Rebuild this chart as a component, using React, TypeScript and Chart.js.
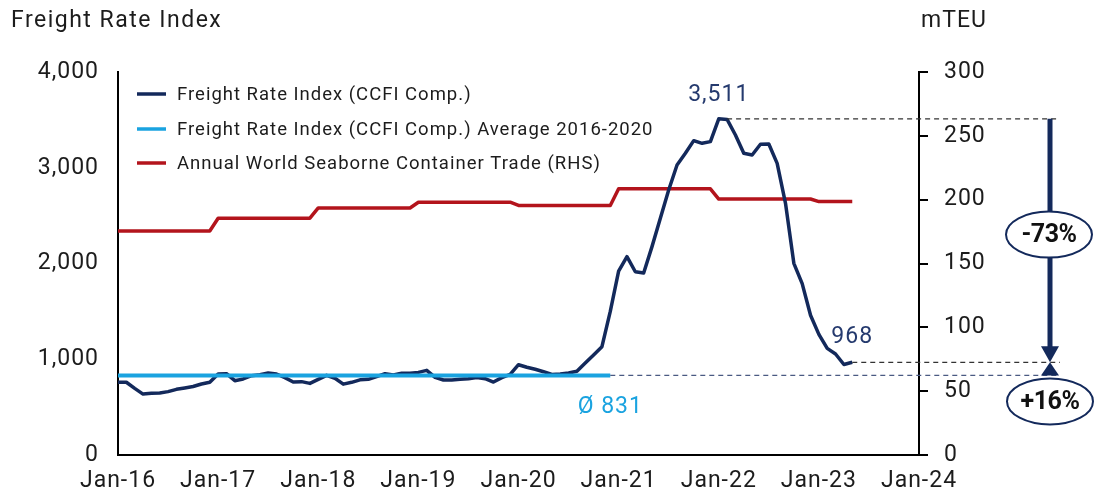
import React, { useEffect, useRef } from "react";
import { Chart, registerables } from "chart.js";

Chart.register(...registerables);

// ---------- data ----------
const xTickLabels = ["Jan-16", "Jan-17", "Jan-18", "Jan-19", "Jan-20", "Jan-21", "Jan-22", "Jan-23", "Jan-24"];

// CCFI composite, monthly Jan-16 .. May-23
const freightIndex = [
  // 2016
  760, 760, 696, 636, 645, 648, 662, 686, 700, 715, 741, 760,
  // 2017
  846, 849, 776, 794, 828, 839, 856, 846, 808, 762, 766, 748,
  // 2018
  790, 832, 801, 740, 759, 785, 790, 818, 849, 835, 853, 853,
  // 2019
  863, 884, 811, 783, 783, 790, 797, 808, 797, 762, 808, 842,
  // 2020
  943, 916, 895, 870, 842, 846, 856, 874, 960, 1045, 1131, 1500,
  // 2021
  1920, 2071, 1914, 1900, 2176, 2472, 2768, 3029, 3151, 3283, 3255, 3273,
  // 2022
  3511, 3505, 3342, 3151, 3133, 3245, 3248, 3046, 2629, 2002, 1790, 1460,
  // 2023
  1260, 1114, 1055, 945, 968,
];

// Annual world seaborne container trade (mTEU), 2016..2023
const tradeYears = [2016, 2017, 2018, 2019, 2020, 2021, 2022, 2023];
const tradeMTEU = [175.5, 185.5, 193.5, 198, 195.5, 208.5, 200.5, 198.5];

// Average of CCFI 2016-2020
const averageValue = 831;
const averageMonths = 60; // Jan-16 .. Dec-20

const seriesNames = [
  "Freight Rate Index (CCFI Comp.)",
  "Freight Rate Index (CCFI Comp.) Average 2016-2020",
  "Annual World Seaborne Container Trade (RHS)",
];

const peakText = "3,511";
const lastText = "968";
const avgText = "Ø 831";
const dropText = "-73%";
const riseText = "+16%";
const leftTitle = "Freight Rate Index";
const rightTitle = "mTEU";

// ---------- style ----------
const NAVY = "#13295b";
const LIGHT_BLUE = "#1aa3e0";
const RED = "#b3141c";
const TEXT = "#1c1c1c";
const FONT = "Roboto";

export default function App() {
  const canvasRef = useRef<HTMLCanvasElement | null>(null);

  useEffect(() => {
    document.body.style.margin = "0";
    const canvas = canvasRef.current;
    if (!canvas) return;

    const freightData = freightIndex.map((v, i) => ({ x: i, y: v }));
    const avgData = Array.from({ length: averageMonths }, (_, i) => ({ x: i, y: averageValue }));
    const tradeData = freightIndex.map((_, i) => ({ x: i, y: tradeMTEU[Math.floor(i / 12)] }));

    const peakIdx = freightIndex.indexOf(Math.max(...freightIndex));
    const lastIdx = freightIndex.length - 1;

    const annotate = {
      id: "annotate",
      beforeDraw(chart: any) {
        (chart.ctx as any).letterSpacing = "1px";
      },
      afterDraw(chart: any) {
        const ctx = chart.ctx as CanvasRenderingContext2D;
        const xs = chart.scales.x;
        const ys = chart.scales.y;
        const peakVal = freightIndex[peakIdx];
        const lastVal = freightIndex[lastIdx];
        const yPeak = ys.getPixelForValue(peakVal);
        const yLast = ys.getPixelForValue(lastVal);
        const yAvg = ys.getPixelForValue(averageValue);
        const xEnd = 1060;
        const ax = 1050;

        ctx.save();

        // titles
        ctx.fillStyle = TEXT;
        ctx.font = `23px ${FONT}`;
        (ctx as any).letterSpacing = "1.5px";
        ctx.textAlign = "left";
        ctx.textBaseline = "alphabetic";
        ctx.fillText(leftTitle, 11, 27);
        (ctx as any).letterSpacing = "1px";
        ctx.fillText(rightTitle, 921, 27);

        // legend
        const legendColors = [NAVY, LIGHT_BLUE, RED];
        const rows = [94, 129, 163];
        ctx.font = `18.5px ${FONT}`;
        ctx.textBaseline = "middle";
        seriesNames.forEach((name, i) => {
          ctx.strokeStyle = legendColors[i];
          ctx.lineWidth = 3.5;
          ctx.lineCap = "butt";
          ctx.beginPath();
          ctx.moveTo(137, rows[i]);
          ctx.lineTo(166, rows[i]);
          ctx.stroke();
          ctx.fillStyle = TEXT;
          ctx.fillText(name, 177, rows[i] + 1);
        });

        // dashed reference lines
        ctx.setLineDash([5, 4]);
        ctx.lineWidth = 1.3;
        ctx.strokeStyle = "#333333";
        ctx.beginPath();
        ctx.moveTo(xs.getPixelForValue(peakIdx + 1), yPeak);
        ctx.lineTo(xEnd, yPeak);
        ctx.moveTo(xs.getPixelForValue(lastIdx), yLast);
        ctx.lineTo(xEnd, yLast);
        ctx.stroke();
        ctx.strokeStyle = "#4a5a82";
        ctx.beginPath();
        ctx.moveTo(xs.getPixelForValue(averageMonths - 1), yAvg);
        ctx.lineTo(xEnd, yAvg);
        ctx.stroke();
        ctx.setLineDash([]);

        // arrow
        ctx.strokeStyle = NAVY;
        ctx.fillStyle = NAVY;
        ctx.lineWidth = 5;
        ctx.beginPath();
        ctx.moveTo(ax, yPeak);
        ctx.lineTo(ax, yLast - 12);
        ctx.stroke();
        ctx.beginPath();
        ctx.moveTo(ax - 9, yLast - 16);
        ctx.lineTo(ax + 9, yLast - 16);
        ctx.lineTo(ax, yLast);
        ctx.closePath();
        ctx.fill();
        ctx.beginPath();
        ctx.moveTo(ax - 9, yAvg);
        ctx.lineTo(ax + 9, yAvg);
        ctx.lineTo(ax, yLast);
        ctx.closePath();
        ctx.fill();

        // ellipses
        const drawBadge = (cx: number, cy: number, text: string) => {
          ctx.beginPath();
          ctx.ellipse(cx, cy, 43, 23, 0, 0, Math.PI * 2);
          ctx.fillStyle = "#ffffff";
          ctx.fill();
          ctx.lineWidth = 2;
          ctx.strokeStyle = NAVY;
          ctx.stroke();
          ctx.fillStyle = "#111111";
          ctx.font = `bold 25px ${FONT}`;
          ctx.textAlign = "center";
          ctx.textBaseline = "middle";
          (ctx as any).letterSpacing = "-0.5px";
          ctx.fillText(text, cx, cy + 1);
          (ctx as any).letterSpacing = "1px";
        };
        drawBadge(1049, (yPeak + yLast) / 2 - 6, dropText);
        drawBadge(1050, yAvg + 26, riseText);

        // value labels
        ctx.font = `23px ${FONT}`;
        ctx.textAlign = "center";
        ctx.textBaseline = "middle";
        ctx.fillStyle = "#253a6e";
        ctx.fillText(peakText, xs.getPixelForValue(peakIdx), yPeak - 24);
        ctx.fillText(lastText, xs.getPixelForValue(lastIdx), yLast - 25);
        ctx.fillStyle = LIGHT_BLUE;
        ctx.fillText(avgText, xs.getPixelForValue(averageMonths - 1), yAvg + 32);

        ctx.restore();
      },
    };

    const tickFont = { family: FONT, size: 23 };

    const chart = new Chart(canvas, {
      type: "line",
      data: {
        datasets: [
          {
            label: seriesNames[0],
            data: freightData,
            borderColor: NAVY,
            borderWidth: 3.5,
            yAxisID: "y",
            order: 1,
            pointRadius: 0,
          },
          {
            label: seriesNames[1],
            data: avgData,
            borderColor: LIGHT_BLUE,
            borderWidth: 4,
            yAxisID: "y",
            order: 0,
            pointRadius: 0,
          },
          {
            label: seriesNames[2],
            data: tradeData,
            borderColor: RED,
            borderWidth: 3.5,
            yAxisID: "y1",
            order: 2,
            pointRadius: 0,
          },
        ],
      },
      options: {
        animation: false,
        responsive: false,
        devicePixelRatio: 1,
        layout: { padding: { top: 72, left: 0, right: 0, bottom: 0 } },
        plugins: {
          legend: { display: false },
          tooltip: { enabled: false },
        },
        elements: { line: { tension: 0, borderJoinStyle: "round" } },
        scales: {
          x: {
            type: "linear",
            min: 0,
            max: 96,
            grid: { display: false, drawTicks: false },
            border: { display: true, color: "#000", width: 2 },
            ticks: {
              stepSize: 12,
              autoSkip: false,
              maxRotation: 0,
              padding: 12,
              color: TEXT,
              font: tickFont,
              callback: (v: any) => xTickLabels[Math.round(Number(v) / 12)] ?? "",
            },
            afterFit: (s: any) => {
              s.height = 41;
            },
          },
          y: {
            position: "left",
            min: 0,
            max: 4000,
            grid: { display: false, drawTicks: false },
            border: { display: true, color: "#000", width: 2 },
            ticks: {
              stepSize: 1000,
              padding: 19,
              color: TEXT,
              font: tickFont,
              callback: (v: any) => Number(v).toLocaleString("en-US"),
            },
            afterFit: (s: any) => {
              s.width = 118;
            },
          },
          y1: {
            position: "right",
            min: 0,
            max: 300,
            grid: {
              display: true,
              drawOnChartArea: false,
              drawTicks: true,
              tickLength: 9,
              color: "#000",
              lineWidth: 2,
            },
            border: { display: true, color: "#000", width: 2 },
            ticks: {
              stepSize: 50,
              padding: 16,
              color: TEXT,
              font: tickFont,
            },
            afterFit: (s: any) => {
              s.width = 175;
            },
          },
        },
      } as any,
      plugins: [annotate],
    });

    return () => chart.destroy();
  }, []);

  return (
    <canvas
      ref={canvasRef}
      width={1094}
      height={496}
      style={{ display: "block", width: 1094, height: 496 }}
    />
  );
}
